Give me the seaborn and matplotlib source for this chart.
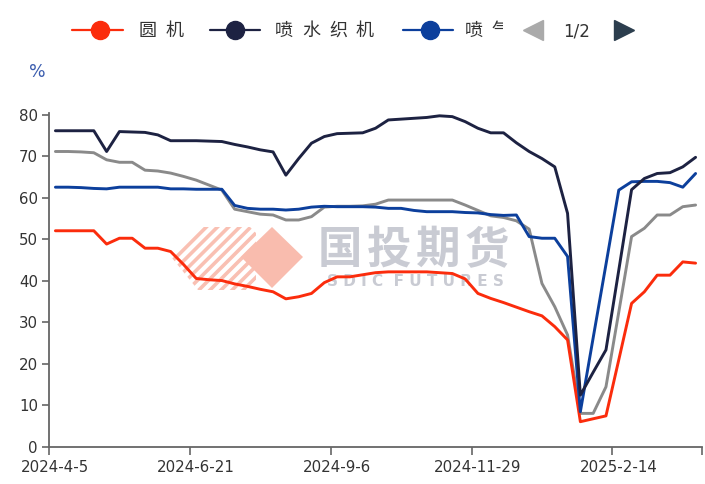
import matplotlib
matplotlib.use('Agg')
import matplotlib.pyplot as plt
from matplotlib.lines import Line2D
from matplotlib.patches import Polygon
from matplotlib.transforms import Bbox, TransformedBbox
import numpy as np
import pandas as pd
import seaborn as sns

# Data: weekly operating rate (%), 51 weekly categories starting 2024-4-5
week = list(range(51))
tick_pos = [0, 11, 22, 33, 44]
tick_labels = ['2024-4-5', '2024-6-21', '2024-9-6', '2024-11-29', '2025-2-14']

circular = [52.1, 52.1, 52.1, 52.1, 48.9, 50.3, 50.3, 47.9, 47.9, 47.1,
            44.0, 40.6, 40.3, 40.1, 39.3, 38.7, 38.0, 37.4, 35.7, 36.2,
            37.0, 39.6, 41.0, 41.0, 41.5, 42.0, 42.2, 42.2, 42.2, 42.2,
            42.0, 41.8, 40.5, 37.0, 35.8, 34.8, 33.7, 32.6, 31.6, 29.0,
            25.8, 6.1, 6.8, 7.5, 21.0, 34.6, 37.4, 41.4, 41.4, 44.6, 44.3]
waterjet = [76.2, 76.2, 76.2, 76.2, 71.2, 76.0, 75.9, 75.8, 75.2, 73.8,
            73.8, 73.8, 73.7, 73.6, 72.9, 72.3, 71.6, 71.1, 65.5, 69.5,
            73.2, 74.8, 75.5, 75.6, 75.7, 76.8, 78.8, 79.0, 79.2, 79.4,
            79.8, 79.6, 78.4, 76.8, 75.7, 75.7, 73.3, 71.2, 69.5, 67.5,
            56.3, 12.5, 18.0, 23.4, 42.6, 62.0, 64.7, 65.9, 66.1, 67.5, 69.8]
airjet = [62.6, 62.6, 62.5, 62.3, 62.2, 62.6, 62.6, 62.6, 62.6, 62.2,
          62.2, 62.1, 62.1, 62.1, 58.2, 57.5, 57.3, 57.3, 57.1, 57.3,
          57.8, 58.0, 57.9, 57.9, 57.9, 57.8, 57.5, 57.5, 57.0, 56.7,
          56.7, 56.7, 56.5, 56.4, 56.0, 55.8, 55.9, 50.7, 50.3, 50.3,
          45.9, 8.5, 26.3, 44.0, 61.9, 63.9, 64.0, 64.0, 63.7, 62.6, 65.9]
warp = [71.2, 71.2, 71.1, 70.9, 69.2, 68.6, 68.6, 66.7, 66.5, 66.0,
        65.2, 64.3, 63.1, 61.9, 57.3, 56.7, 56.1, 55.9, 54.7, 54.7,
        55.5, 57.8, 58.0, 58.0, 58.1, 58.5, 59.5, 59.5, 59.5, 59.5,
        59.5, 59.5, 58.3, 57.0, 55.7, 55.3, 54.5, 52.5, 39.4, 33.8,
        27.0, 8.1, 8.1, 14.5, 32.5, 50.7, 52.7, 55.9, 55.9, 57.9, 58.3]

names = ['圆机', '喷水织机', '喷气织机', '经编机']
colors = ['#fb2c0c', '#1d2242', '#0c3f9c', '#8a8a8a']

W, H = 705, 484

def px(x, y):
  return (x / W, 1 - y / H)

sns.set_style('ticks')
plt.rcParams['font.family'] = ['DejaVu Sans', 'Noto Sans CJK SC']
plt.rcParams['hatch.linewidth'] = 2.6

df = pd.DataFrame({
  'week': week * 4,
  'value': circular + waterjet + airjet + warp,
  'series': sum([[n] * len(week) for n in names], []),
})

fig = plt.figure(figsize=(W / 100, H / 100), dpi=100)
ax = fig.add_axes([49 / W, (H - 447) / H, (702 - 49) / W, (447 - 112.9) / H])

# draw order: gray underneath, then red, blue, navy
order = ['经编机', '圆机', '喷气织机', '喷水织机']
sns.lineplot(data=df, x='week', y='value', hue='series', hue_order=order,
             palette=dict(zip(names, colors)), linewidth=2.1, legend=False,
             ax=ax, zorder=3)

ax.set_xlim(-0.5, 50.5)
ax.set_ylim(0, 80.5)
ax.set_yticks(range(0, 81, 10))
ax.set_xticks(tick_pos)
ax.set_xticklabels(tick_labels)
ax.set_xticks(np.arange(-0.5, 51, 11).tolist() + [50.5], minor=True)
ax.tick_params(axis='x', which='major', length=0, pad=9, labelsize=10.8, colors='#333333')
ax.tick_params(axis='x', which='minor', length=6, width=1.2, color='#666666')
ax.tick_params(axis='y', length=5, width=1.2, color='#666666', labelsize=10.8,
               labelcolor='#333333', pad=3)
ax.set_xlabel('')
ax.set_ylabel('')
sns.despine(ax=ax)
for s in ['left', 'bottom']:
  ax.spines[s].set_color('#666666')
  ax.spines[s].set_linewidth(1.3)

# watermark
hatch = Polygon([px(172, 258), px(203, 227), px(250, 227), px(256, 233), px(256, 280),
                 px(246, 290), px(198, 290)],
                closed=True, transform=fig.transFigure, fill=False, hatch='///',
                edgecolor='#f9c0b3', linewidth=0, zorder=0.5, clip_on=False)
ax.add_patch(hatch)
diamond = Polygon([px(241, 257), px(272, 227), px(303, 257), px(272, 288)],
                  closed=True, transform=fig.transFigure, facecolor='#f9bcae',
                  edgecolor='none', zorder=0.6, clip_on=False)
ax.add_patch(diamond)
for k, ch in enumerate('国投期货'):
  ax.text(*px(340 + 49 * k, 250), ch, transform=fig.transFigure, ha='center', va='center',
          fontsize=32, fontweight='bold', color='#c9cbd3', family=['Noto Sans CJK SC'],
          zorder=0.6)
ax.text(*px(415, 282), 'S D I C  F U T U R E S', transform=fig.transFigure, ha='center',
        va='center', fontsize=11, color='#c9cbd3', fontweight='bold', zorder=0.6)

# legend row
def spaced(x0, y, text, step, **kw):
  arts = []
  for k, ch in enumerate(text):
    arts.append(fig.text(*px(x0 + k * step, y), ch, ha='center', va='center',
                         family=['Noto Sans CJK SC'], fontsize=13, color='#333333', **kw))
  return arts

legend_items = [(72, 123, 100, 148, 2), (210, 260, 235, 284, 4), (403, 453, 430, 474, 2)]
for (x0, x1, xm, xt, n), name, c in zip(legend_items, names[:3], colors[:3]):
  fig.add_artist(Line2D([x0 / W, x1 / W], [1 - 30 / H] * 2, transform=fig.transFigure,
                        color=c, linewidth=1.6))
  fig.add_artist(Line2D([xm / W], [1 - 30 / H], transform=fig.transFigure, marker='o',
                        markersize=13, color=c, linestyle='none'))
  arts = spaced(xt, 31, name, 27)
  if name == '喷气织机':
    clip = TransformedBbox(Bbox.from_extents(0, 0, 503 / W, 1), fig.transFigure)
    for a in arts:
      a.set_clip_on(True)
      a.set_clip_box(clip)

fig.add_artist(Line2D([533 / W], [1 - 30 / H], transform=fig.transFigure, marker='<',
                      markersize=15, color='#aaaaaa', linestyle='none'))
fig.text(*px(577, 31), '1/2', ha='center', va='center', fontsize=12, color='#333333')
fig.add_artist(Line2D([624 / W], [1 - 30 / H], transform=fig.transFigure, marker='>',
                      markersize=15, color='#2c3e4e', linestyle='none'))

fig.text(*px(37, 72), '%', ha='center', va='center', fontsize=12.5, color='#3a5cae')

fig.savefig('out.png', dpi=100)
